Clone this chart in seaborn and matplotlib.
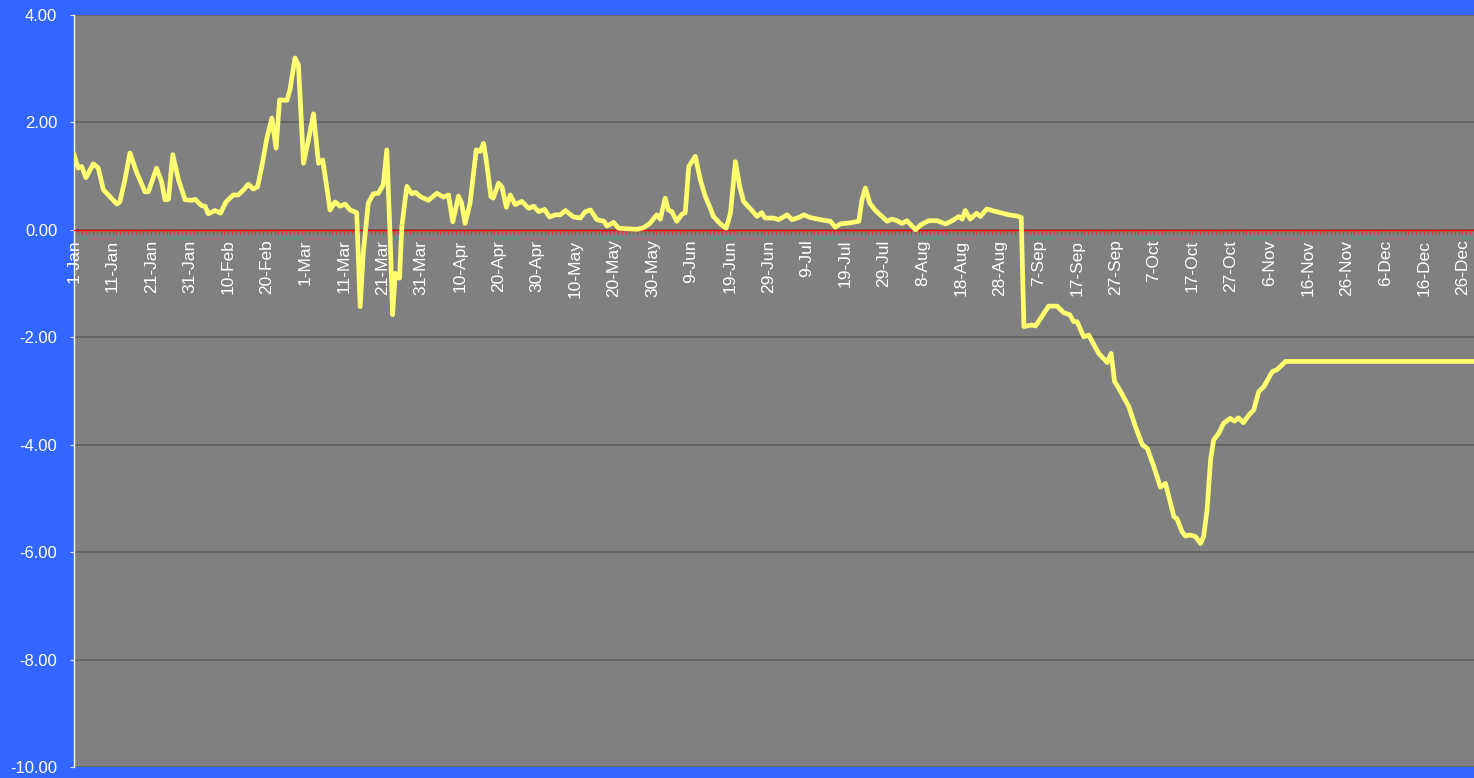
import pandas as pd
import numpy as np
import matplotlib
matplotlib.use('Agg')
import matplotlib.pyplot as plt
import seaborn as sns
from matplotlib.ticker import FixedLocator, MultipleLocator, FormatStrFormatter

# day of year (0 = 1-Jan, leap year) and daily change
days = [0, 1.1, 2, 3.1, 5, 6.3, 7.6, 8.9, 11.1, 11.9, 13.2, 14.5, 16.3, 18.4, 19.3,
        21.4, 22.7, 23.6, 24.5, 25.6, 27.1, 28.8, 30.6, 31.4, 33.1, 34.0, 34.8, 36.6,
        38.0, 39.4, 41.3, 42.6, 43.9, 45.2, 46.5, 47.6, 48.7, 50.0, 51.3, 52.4, 53.3,
        55.2, 56.0, 57.3, 58.2, 59.5, 60.8, 62.1, 63.4, 64.5, 66.4, 67.7, 69.0, 70.3,
        71.6, 73.3, 74.2, 75.0, 76.3, 77.6, 78.9, 80.2, 81.1, 82.0, 82.6, 83.3, 84.4,
        85.0, 86.3, 87.6, 88.5, 89.8, 91.9, 94.1, 95.8, 97.1, 98.2, 99.7, 100.5, 101.4,
        102.7, 104.3, 105.3, 106.2, 107.0, 108.1, 108.7, 110.1, 111.0, 112.1, 113.1,
        114.4, 116.1, 117.9, 119.2, 120.5, 122.0, 123.3, 124.8, 126.1, 127.4, 129.5,
        131.3, 132.6, 133.9, 135.6, 137.4, 138.2, 139.9, 141.2, 143.4, 146.0, 147.7,
        149.3, 151.1, 152.0, 153.3, 154.1, 155.0, 156.3, 157.6, 158.5, 159.4, 161.1,
        162.4, 163.7, 165.0, 165.8, 167.6, 169.1, 170.2, 171.5, 172.6, 173.6, 175.4,
        177.1, 178.3, 179.2, 181.4, 182.7, 184.9, 186.2, 187.9, 189.2, 190.9, 193.5,
        196.1, 197.4, 198.7, 201.2, 203.5, 204.3, 205.2, 206.3, 207.8, 209.5, 210.8,
        212.1, 213.4, 214.7, 216.0, 218.2, 219.5, 221.6, 223.8, 226.0, 227.7, 229.4,
        230.3, 231.1, 232.4, 234.0, 235.0, 236.7, 238.5, 240.2, 242.4, 245.0, 245.6,
        246.3, 248.4, 249.3, 250.8, 252.7, 254.9, 256.6, 258.2, 259.2, 260.1, 261.8,
        263.1, 265.7, 267.9, 268.9, 269.8, 270.9, 273.5, 275.2, 277.0, 278.3, 280.0,
        281.7, 283.0, 284.3, 285.2, 286.0, 287.3, 288.2, 289.3, 290.8, 292.1, 292.9,
        293.8, 294.7, 295.5, 296.8, 298.1, 299.8, 300.9, 301.9, 303.2, 304.6, 305.9,
        307.2, 308.5, 310.7, 312.0, 313.3, 314.1, 330, 345, 365]
values = [1.40, 1.15, 1.18, 0.97, 1.23, 1.15, 0.75, 0.65, 0.48, 0.52, 0.93, 1.43, 1.06, 0.71, 0.71,
          1.15, 0.90, 0.56, 0.57, 1.40, 0.93, 0.56, 0.55, 0.57, 0.45, 0.44, 0.30, 0.36,
          0.31, 0.52, 0.65, 0.65, 0.74, 0.85, 0.76, 0.80, 1.18, 1.70, 2.08, 1.52, 2.42,
          2.41, 2.61, 3.20, 3.07, 1.24, 1.68, 2.16, 1.24, 1.30, 0.37, 0.52, 0.44, 0.48,
          0.37, 0.32, -1.43, -0.43, 0.50, 0.67, 0.68, 0.84, 1.49, -0.19, -1.58, -0.81, -0.90,
          0.06, 0.81, 0.67, 0.70, 0.62, 0.55, 0.68, 0.61, 0.65, 0.15, 0.63, 0.50, 0.12,
          0.50, 1.49, 1.46, 1.61, 1.24, 0.62, 0.59, 0.87, 0.79, 0.42, 0.65,
          0.47, 0.53, 0.40, 0.44, 0.34, 0.38, 0.24, 0.28, 0.28, 0.36, 0.24,
          0.22, 0.34, 0.37, 0.19, 0.16, 0.07, 0.14, 0.03, 0.02, 0.01, 0.04,
          0.12, 0.28, 0.20, 0.59, 0.37, 0.34, 0.16, 0.29, 0.32, 1.18, 1.37,
          0.93, 0.62, 0.40, 0.25, 0.11, 0.03, 0.31, 1.27, 0.81, 0.53, 0.39,
          0.25, 0.32, 0.22, 0.22, 0.19, 0.28, 0.19, 0.23, 0.28, 0.23, 0.19,
          0.16, 0.05, 0.11, 0.13, 0.16, 0.56, 0.78, 0.50, 0.36, 0.25, 0.16,
          0.20, 0.17, 0.12, 0.17, 0.00, 0.09, 0.17, 0.17, 0.11, 0.17, 0.25,
          0.20, 0.36, 0.20, 0.31, 0.25, 0.39, 0.35, 0.32, 0.28, 0.25, 0.23,
          -1.80, -1.77, -1.79, -1.63, -1.42, -1.42, -1.54, -1.58, -1.71, -1.71, -1.99,
          -1.96, -2.30, -2.47, -2.30, -2.82, -2.95, -3.29, -3.66, -4.00, -4.07, -4.41,
          -4.79, -4.72, -5.09, -5.34, -5.38, -5.62, -5.70, -5.68, -5.71, -5.84, -5.71,
          -5.21, -4.28, -3.91, -3.79, -3.60, -3.51, -3.56, -3.50, -3.59, -3.45, -3.35,
          -3.01, -2.92, -2.64, -2.60, -2.51, -2.45, -2.45, -2.45, -2.45]

tick_labels = ['1-Jan', '11-Jan', '21-Jan', '31-Jan', '10-Feb', '20-Feb', '1-Mar', '11-Mar',
               '21-Mar', '31-Mar', '10-Apr', '20-Apr', '30-Apr', '10-May', '20-May', '30-May',
               '9-Jun', '19-Jun', '29-Jun', '9-Jul', '19-Jul', '29-Jul', '8-Aug', '18-Aug',
               '28-Aug', '7-Sep', '17-Sep', '27-Sep', '7-Oct', '17-Oct', '27-Oct', '6-Nov',
               '16-Nov', '26-Nov', '6-Dec', '16-Dec', '26-Dec']
y_ticks = [4, 2, 0, -2, -4, -6, -8, -10]

df = pd.DataFrame({'day': days, 'value': values})

plt.rcParams['font.family'] = ['Liberation Sans', 'DejaVu Sans']
plt.rcParams['axes.unicode_minus'] = False

fig = plt.figure(figsize=(14.74, 7.78), dpi=100, facecolor='#3366FF')
ax = fig.add_axes([74 / 1474, 11 / 778, 1400 / 1474, 752 / 778])
ax.set_facecolor('#808080')

sns.lineplot(x='day', y='value', data=df, color='#FFFF70', linewidth=3.4, ax=ax, zorder=3)

ax.set_xlim(0, 363)
ax.set_ylim(-10, 4)
ax.set_xlabel('')
ax.set_ylabel('')

# y axis
ax.yaxis.set_major_locator(FixedLocator(y_ticks))
ax.yaxis.set_major_formatter(FormatStrFormatter('%.2f'))
ax.grid(axis='y', color='#5e5e5e', linewidth=1.1)
ax.grid(axis='x', visible=False)
ax.set_axisbelow(True)
ax.tick_params(axis='y', direction='out', length=3, color='#dddddd', labelcolor='white',
               labelsize=12, pad=9)

# x axis sits on the zero line
ax.spines['bottom'].set_position(('data', 0))
ax.spines['bottom'].set_color('red')
ax.spines['bottom'].set_linewidth(1)
ax.spines['bottom'].set_zorder(2.5)
ax.xaxis.set_major_locator(FixedLocator(range(0, 10 * len(tick_labels), 10)))
ax.set_xticklabels(tick_labels)
ax.xaxis.set_minor_locator(MultipleLocator(1))
ax.tick_params(axis='x', which='both', direction='out', length=3, color='#e03030', width=0.8)
ax.tick_params(axis='x', which='major', labelcolor='white', labelsize=12.5, rotation=90, pad=4)

ax.spines['left'].set_color('white')
ax.spines['left'].set_linewidth(1)
ax.spines['top'].set_visible(False)
ax.spines['right'].set_visible(False)

fig.savefig('out.png', dpi=100, facecolor=fig.get_facecolor())
